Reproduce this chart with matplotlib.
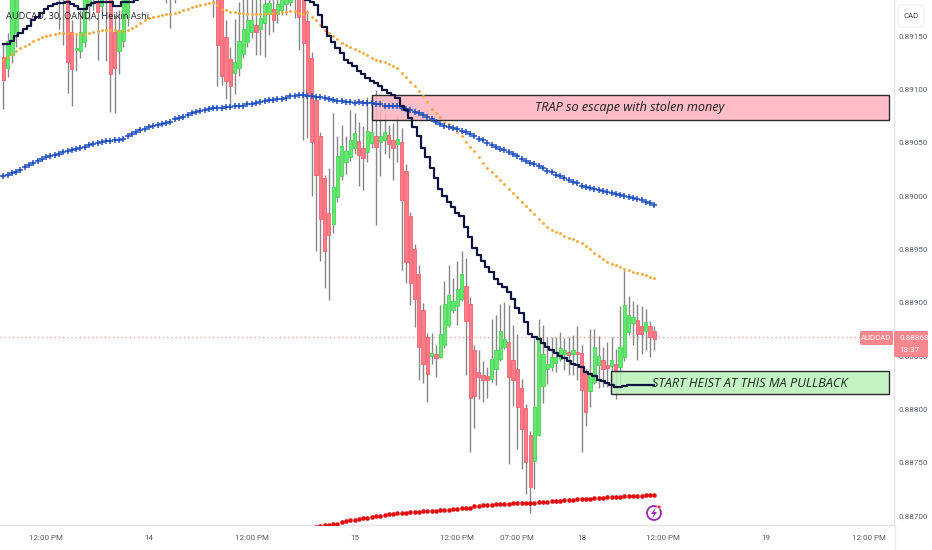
import numpy as np
import matplotlib
matplotlib.use("Agg")
import matplotlib.pyplot as plt
from matplotlib.patches import Rectangle, Circle, FancyBboxPatch, Polygon
from matplotlib.lines import Line2D
from matplotlib.transforms import IdentityTransform

plt.rcParams["font.family"] = ["Roboto", "DejaVu Sans"]

SYMBOL_TITLE = "AUDCAD, 30, OANDA, Heikin Ashi"
SYMBOL = "AUDCAD"
LAST_PRICE = 0.88868
COUNTDOWN = "18:37"
CURRENCY = "CAD"
TRAP_TEXT = "TRAP so escape with stolen money"
HEIST_TEXT = "START HEIST AT THIS MA PULLBACK"

# Heikin Ashi candles, in points (1e-5 of a price unit)
opens = [
 89131,89120,89132,89153,89195,89210,89220,89228,89235,89240,
 89245,89250,89240,89215,89205,89195,89154,89137,89136,89145,
 89178,89190,89182,89178,89200,89195,89154,89136,89146,89168,
 89195,89208,89218,89225,89232,89238,89245,89240,89225,89210,
 89205,89212,89220,89228,89235,89242,89245,89245,89230,89215,
 89200,89190,89149,89129,89116,89120,89133,89145,89154,89161,
 89157,89162,89171,89176,89171,89175,89180,89182,89190,89195,
 89190,89164,89130,89090,89056,89017,88984,88974,88999,89019,
 89032,89037,89045,89052,89045,89041,89050,89056,89051,89053,
 89057,89053,89049,89051,89024,88981,88950,88927,88893,88868,
 88850,88852,88849,88860,88879,88893,88897,88904,88916,88899,
 88856,88835,88832,88831,88829,88838,88847,88859,88863,88846,
 88838,88820,88801,88776,88752,88776,88822,88838,88840,88844,
 88847,88852,88854,88852,88854,88853,88834,88817,88826,88842,
 88846,88842,88841,88843,88840,88849,88873,88881,88884,88878,
 88874,88878,88874]
highs = [
 89143,89153,89200,89210,89225,89235,89245,89252,89258,89262,
 89265,89262,89250,89230,89225,89215,89165,89151,89175,89215,
 89220,89225,89195,89205,89210,89210,89170,89175,89210,89215,
 89225,89235,89240,89248,89255,89258,89262,89255,89240,89225,
 89225,89235,89242,89250,89258,89260,89262,89258,89245,89230,
 89215,89205,89165,89140,89166,89182,89190,89200,89195,89190,
 89195,89200,89195,89190,89195,89195,89200,89205,89210,89205,
 89200,89175,89135,89095,89060,89020,89026,89078,89056,89067,
 89056,89081,89078,89070,89066,89093,89095,89100,89082,89078,
 89067,89069,89075,89064,89030,88985,88955,88935,88900,88872,
 88872,88860,88898,88920,88935,88923,88939,88949,88942,88905,
 88860,88856,88845,88840,88885,88889,88899,88901,88898,88879,
 88871,88829,88805,88780,88867,88885,88879,88868,88868,88868,
 88873,88867,88868,88870,88878,88860,88838,88875,88875,88869,
 88859,88863,88868,88857,88897,88931,88906,88902,88899,88897,
 88894,88883,88878]
lows = [
 89082,89112,89125,89140,89190,89200,89208,89215,89220,89222,
 89225,89215,89195,89157,89142,89097,89085,89117,89130,89140,
 89165,89175,89128,89170,89127,89079,89078,89115,89140,89160,
 89188,89198,89205,89210,89215,89215,89210,89195,89181,89158,
 89181,89200,89208,89215,89222,89225,89228,89205,89195,89168,
 89103,89104,89091,89085,89096,89113,89130,89140,89148,89132,
 89132,89131,89151,89154,89162,89170,89170,89178,89167,89137,
 89053,89055,89000,88949,88939,88914,88903,88965,88995,89015,
 89021,89033,89040,89010,89006,89032,89045,88973,89019,89040,
 89036,89015,89032,88931,88919,88898,88877,88828,88825,88807,
 88843,88830,88848,88858,88877,88890,88879,88902,88832,88760,
 88783,88810,88807,88811,88826,88823,88845,88857,88749,88803,
 88763,88744,88721,88703,88725,88775,88806,88824,88836,88835,
 88845,88837,88832,88832,88828,88760,88784,88802,88824,88820,
 88821,88821,88820,88810,88825,88845,88870,88860,88846,88852,
 88856,88849,88856]
closes = [
 89109,89146,89190,89200,89215,89225,89235,89240,89248,89250,
 89255,89240,89215,89205,89190,89126,89119,89139,89154,89200,
 89205,89210,89173,89190,89190,89115,89120,89156,89195,89200,
 89215,89225,89230,89238,89245,89250,89240,89225,89210,89200,
 89215,89225,89232,89240,89248,89250,89252,89230,89215,89205,
 89142,89113,89108,89103,89126,89146,89157,89165,89165,89154,
 89167,89180,89181,89165,89180,89186,89188,89192,89195,89168,
 89144,89096,89051,89020,88979,88949,88964,89009,89038,89047,
 89042,89053,89059,89039,89036,89061,89060,89046,89056,89060,
 89049,89045,89054,88996,88938,88919,88904,88859,88843,88833,
 88853,88848,88871,88899,88907,88902,88913,88927,88883,88811,
 88813,88830,88828,88828,88847,88856,88874,88866,88830,88828,
 88802,88782,88751,88727,88802,88868,88852,88843,88849,88849,
 88858,88856,88851,88856,88852,88818,88798,88834,88859,88850,
 88838,88839,88846,88835,88859,88898,88889,88887,88871,88871,
 88882,88868,88866]

# moving averages, one value per candle, in points
ma_black = [
 89143,89143,89146,89150,89153,89157,89160,89165,89168,89172,
 89176,89178,89180,89181,89181,89182,89180,89178,89176,89176,
 89179,89181,89182,89182,89182,89182,89178,89178,89182,89182,
 89182,89184,89188,89192,89196,89200,89204,89207,89210,89213,
 89215,89218,89220,89221,89222,89223,89223,89224,89224,89223,
 89223,89222,89221,89220,89219,89218,89217,89216,89215,89214,
 89213,89211,89209,89207,89205,89203,89201,89198,89195,89191,
 89188,89184,89182,89179,89170,89159,89150,89145,89139,89134,
 89128,89125,89122,89117,89115,89111,89108,89106,89103,89100,
 89097,89095,89092,89085,89081,89073,89065,89056,89045,89037,
 89026,89017,89007,89000,88995,88990,88984,88981,88971,88962,
 88951,88945,88939,88934,88929,88922,88918,88915,88910,88904,
 88895,88890,88882,88871,88868,88866,88862,88859,88856,88853,
 88850,88848,88845,88843,88842,88840,88835,88833,88831,88828,
 88827,88825,88823,88821,88821,88822,88823,88823,88823,88823,
 88823,88823,88823]
ma_orange = [
 89128,89131,89133,89136,89139,89141,89143,89146,89147,89149,
 89150,89151,89152,89153,89153,89153,89152,89152,89152,89152,
 89153,89154,89155,89156,89156,89156,89156,89155,89155,89156,
 89158,89160,89162,89165,89167,89168,89169,89170,89171,89171,
 89172,89173,89175,89176,89177,89178,89179,89180,89181,89182,
 89179,89176,89175,89173,89173,89172,89172,89171,89171,89171,
 89171,89171,89172,89172,89172,89173,89173,89174,89174,89172,
 89171,89173,89168,89165,89161,89156,89153,89150,89147,89144,
 89142,89140,89138,89136,89134,89132,89130,89128,89127,89126,
 89124,89122,89120,89116,89112,89107,89103,89099,89094,89088,
 89082,89078,89074,89070,89068,89064,89060,89056,89051,89046,
 89042,89037,89031,89026,89023,89019,89015,89011,89007,89003,
 88999,88995,88991,88987,88983,88979,88975,88971,88968,88966,
 88965,88963,88961,88960,88958,88956,88953,88950,88947,88944,
 88941,88938,88936,88935,88934,88932,88931,88929,88928,88927,
 88926,88924,88923]
ma_blue = [
 89019,89020,89022,89023,89025,89027,89029,89031,89033,89035,
 89037,89038,89039,89040,89041,89042,89043,89044,89045,89046,
 89048,89049,89050,89051,89052,89052,89053,89053,89054,89056,
 89058,89060,89062,89063,89065,89066,89067,89068,89069,89070,
 89072,89073,89074,89076,89078,89079,89080,89081,89082,89083,
 89083,89083,89084,89084,89085,89085,89085,89086,89086,89087,
 89088,89089,89090,89090,89091,89091,89092,89094,89094,89095,
 89095,89094,89094,89093,89093,89092,89091,89090,89089,89089,
 89088,89088,89087,89088,89087,89087,89087,89086,89086,89085,
 89085,89085,89085,89083,89082,89081,89079,89078,89076,89074,
 89072,89070,89068,89066,89065,89064,89063,89061,89060,89058,
 89056,89054,89053,89050,89048,89046,89044,89043,89041,89040,
 89038,89035,89033,89031,89030,89028,89026,89024,89023,89020,
 89019,89017,89015,89013,89012,89010,89009,89008,89007,89006,
 89005,89004,89003,89002,89001,89000,88999,88998,88997,88996,
 88995,88994,88992]
ma_red_first_bar = 73
ma_red = [
 88690,88691,88692,88692,88693,88693,88694,88695,88696,88696,88697,88698,88698,
 88699,88700,88700,88701,88702,88702,88703,88703,88703,88704,88704,88704,88705,
 88705,88705,88705,88706,88706,88706,88707,88707,88708,88708,88708,88709,88709,
 88710,88710,88710,88711,88711,88711,88711,88712,88712,88712,88712,88712,88712,
 88713,88713,88713,88714,88714,88714,88715,88715,88715,88716,88716,88716,88716,
 88717,88717,88717,88718,88718,88718,88718,88719,88719,88719,88719,88719,88720,
 88720,88720]

# axis ticks and zones
y_ticks = [0.88700, 0.88750, 0.88800, 0.88850, 0.88900, 0.88950, 0.89000, 0.89050, 0.89100, 0.89150]
x_ticks = [10, 34, 58, 82, 106, 120, 135, 154, 178, 202]
x_labels = ["12:00 PM", "14", "12:00 PM", "15", "12:00 PM", "07:00 PM", "18", "12:00 PM", "19", "12:00 PM"]
trap_zone = (86.1, 206.8, 0.89071, 0.89095)
heist_zone = (141.9, 206.8, 0.88814, 0.88836)

W, H = 932, 550
AX_R, AX_B = 894, 525
fig = plt.figure(figsize=(W / 100, H / 100), dpi=100, facecolor="white")
ax = fig.add_axes([0, (H - AX_B) / H, AX_R / W, AX_B / H])

P = lambda a: np.asarray(a, dtype=float) / 1e5
o, h, l, c = P(opens), P(highs), P(lows), P(closes)
bars = np.arange(len(o))
up = c >= o
RED, RED_E = "#fb7c88", "#f4626e"
GRN, GRN_E = "#63e86f", "#47d655"

ax.vlines(bars, l, h, color="#868686", lw=1.0, zorder=2)
ax.bar(bars[up], (c - o)[up], bottom=o[up], width=0.76, color=GRN, edgecolor=GRN_E, lw=0.6, zorder=3)
ax.bar(bars[~up], (o - c)[~up], bottom=c[~up], width=0.76, color=RED, edgecolor=RED_E, lw=0.6, zorder=3)

ax.axhline(LAST_PRICE, color="#f5a3aa", lw=1, ls=(0, (1, 2)), zorder=1)

for (x0, x1, y0, y1), fc in ((trap_zone, "#ffb3bd"), (heist_zone, "#b9f0b9")):
    ax.add_patch(Rectangle((x0, y0), x1 - x0, y1 - y0, facecolor=fc, alpha=0.85, edgecolor="none", zorder=4))
    ax.add_patch(Rectangle((x0, y0), x1 - x0, y1 - y0, facecolor="none", edgecolor="#2a2a2a", lw=1.0, zorder=4))

ax.plot(bars, P(ma_orange), ls="none", marker="o", ms=2.1, color="#f7a93b", mew=0, zorder=5)
ax.plot(bars, P(ma_blue), ls="none", marker="+", ms=4.4, mew=1.1, color="#1d4fbf", zorder=5)
ax.plot(np.arange(ma_red_first_bar, ma_red_first_bar + len(ma_red)), P(ma_red), ls="none",
        marker="o", ms=3.3, mew=0, color="#e30b0b", zorder=5)
ax.plot(bars, P(ma_black), color="#0b1140", lw=1.6, drawstyle="steps-mid", zorder=6)

ax.text((trap_zone[0] + trap_zone[1]) / 2 - 0.2, (trap_zone[2] + trap_zone[3]) / 2, TRAP_TEXT, ha="center", va="center",
        family="Open Sans", style="italic", fontsize=9.1, color="#1c1c1c", zorder=7)
ax.text(151.4, 0.888245, HEIST_TEXT, ha="left", va="center",
        family="Open Sans", style="italic", fontsize=9.2, color="#1c2a1c", zorder=7)

ax.set_xlim(-0.78, 207.95)
ax.set_ylim(0.886916, 0.89184)
ax.yaxis.tick_right()
ax.set_yticks(y_ticks)
ax.set_yticklabels([f"{v:.5f}" for v in y_ticks])
ax.set_xticks(x_ticks)
ax.set_xticklabels(x_labels)
ax.tick_params(axis="both", length=0, labelsize=5.8, labelcolor="#555a60")
ax.tick_params(axis="y", pad=2.9)
ax.tick_params(axis="x", pad=7)
for s in ("top", "left"):
    ax.spines[s].set_visible(False)
for s in ("right", "bottom"):
    ax.spines[s].set_color("#e3e5ea")
    ax.spines[s].set_linewidth(1)

ax.text(6 / AX_R, 1 - 16 / AX_B, SYMBOL_TITLE, transform=ax.transAxes, ha="left", va="center",
        fontsize=6.7, color="#222428", family="Open Sans", zorder=8)

# overlays placed in pixel coordinates of the figure
px = IdentityTransform()
def Y(y):
    return H - y

fig.add_artist(Line2D([AX_R + .5, AX_R + .5], [0, Y(525)], transform=px, color="#e8eaee", lw=1))
fig.add_artist(FancyBboxPatch((898, Y(27)), 26, 22, boxstyle="round,pad=0,rounding_size=3", transform=px,
                              fc="white", ec="#eceef2", lw=0.8))
fig.text(911 / W, Y(16) / H, CURRENCY, ha="center", va="center", fontsize=5.6, color="#3a3d44")

TAG = "#f8868d"
fig.add_artist(FancyBboxPatch((860, Y(345)), 33, 14, boxstyle="round,pad=0,rounding_size=1.5", transform=px, fc=TAG, ec="none"))
fig.add_artist(FancyBboxPatch((894, Y(357)), 34, 26, boxstyle="round,pad=0,rounding_size=1.5", transform=px, fc=TAG, ec="none"))
fig.text(876 / W, Y(338) / H, SYMBOL, ha="center", va="center", fontsize=5.6, color="white")
fig.text(899 / W, Y(338) / H, f"{LAST_PRICE:.5f}", ha="left", va="center", fontsize=5.8, color="white")
fig.text(899 / W, Y(350) / H, COUNTDOWN, ha="left", va="center", fontsize=5.8, color="white")

fig.add_artist(Circle((654, Y(513)), 7, transform=px, fc="white", ec="#9c27b0", lw=1.3))
fig.add_artist(Polygon([(656, Y(507)), (651, Y(514)), (654, Y(514)), (652, Y(519)), (657, Y(512)), (654, Y(512))],
                       closed=True, transform=px, fc="#9c27b0", ec="none"))
fig.add_artist(Circle((659, Y(507)), 2, transform=px, fc="#f0323c", ec="white", lw=0.5))

fig.savefig("out.png", dpi=100, facecolor="white")
